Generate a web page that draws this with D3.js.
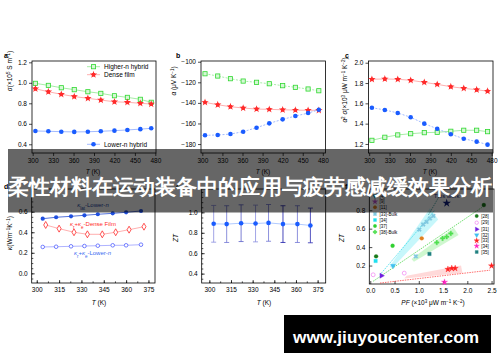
<!DOCTYPE html>
<html>
<head>
<meta charset="utf-8">
<script src="https://cdn.jsdelivr.net/npm/d3@7"></script>
<style>
  body { margin: 0; background: #fff; }
  svg { display: block; }
  text { font-family: "Liberation Sans", Arial, sans-serif; }
</style>
</head>
<body>
<svg width="500" height="362"></svg>
<script>
// ---- data ----
// panels a-c: temperature (K)
const tempTop = [304, 323, 342, 361, 381, 400, 420, 439, 458, 474];
const sigmaHigher = [0.995, 0.975, 0.952, 0.933, 0.913, 0.897, 0.874, 0.858, 0.839, 0.81];
const sigmaDense = [0.942, 0.913, 0.888, 0.866, 0.849, 0.832, 0.815, 0.81, 0.80, 0.793];
const sigmaLower = [0.53, 0.527, 0.523, 0.521, 0.522, 0.527, 0.533, 0.54, 0.548, 0.556];
const seebeckHigher = [-111.7, -113.9, -116.5, -118.8, -120, -121.4, -123.3, -124.9, -126.5, -128.2];
const seebeckDense = [-139.5, -141.8, -143.7, -145, -146, -146.3, -146.7, -147, -147.2, -147.2];
const seebeckLower = [-171.5, -171.2, -170.3, -168, -164.1, -159.9, -156, -152.8, -149.9, -146.7];
const pfHigher = [1.236, 1.266, 1.289, 1.301, 1.311, 1.315, 1.325, 1.335, 1.335, 1.321];
const pfDense = [1.837, 1.840, 1.837, 1.827, 1.807, 1.787, 1.764, 1.748, 1.734, 1.72];
const pfLower = [1.557, 1.535, 1.505, 1.463, 1.40, 1.35, 1.296, 1.252, 1.223, 1.193];
const seriesNames = ['Higher-n hybrid', 'Dense film', 'Lower-n hybrid'];

// panel d: thermal conductivity
const tempKappa = [304, 313, 323, 332, 341, 351, 360, 370];
const tempKappaDense = [306, 315, 325, 334, 344, 353, 362, 372];
const kappaLatLower = [0.532, 0.546, 0.555, 0.565, 0.575, 0.584, 0.594, 0.607];
const kappaDense = [0.471, 0.435, 0.40, 0.38, 0.38, 0.40, 0.425, 0.454];
const kappaLower = [0.257, 0.259, 0.263, 0.266, 0.269, 0.273, 0.273, 0.279];

// panel e: ZT with error bars
const tempZT = [303, 312, 322, 332, 341, 351, 361, 370];
const zt = [0.888, 0.885, 0.894, 0.891, 0.897, 0.885, 0.885, 0.872];
const ztErr = [0.18, 0.18, 0.18, 0.18, 0.18, 0.18, 0.18, 0.17];

// panel f: literature comparison (PF in 10^3 uW m-1 K-2, ZT)
const refLabels = ['[4]', '[9]', '[11]', '[33]-Bulk', '[34]', '[37]', '[38]-Bulk',
  '[28]', '[29]', '[31]', '[32]', '[33]', '[34]', '[35]'];
const litPF = [2.34, 0.12, 0.46, 0.11, 0.06, 0.70, 0.23, 0.47, 1.06, 1.22, 1.53, 2.5, 0.94,
  1.37, 1.49, 1.575, 1.66, 1.01, 1.09, 1.16, 1.23, 1.30, 1.6, 1.68, 1.75];
const litZT = [0.856, 0.30, 0.415, 0.25, 0.10, 0.118, 0.09, 0.197, 0.495, 0.326, 0.02, 0.197, 0.30,
  0.45, 0.495, 0.512, 0.548, 0.59, 0.645, 0.673, 0.71, 0.738, 0.16, 0.17, 0.17];
const litRef = [7, 7, 5, 4, 8, 8, 9, 10, 2, 13, 12, 11, 3,
  6, 6, 6, 6, 3, 3, 3, 3, 3, 11, 11, 11];
const thisWork = { pf: 1.575, zt: 0.877 };

// ---- drawing ----
const svg = d3.select('svg');
const fontSize = 6.5;

const colGreen = '#2fd82f', colGreenLine = '#8fe88f';
const colRed = '#ff2a2a', colRedLine = '#ff9a9a';
const colBlue = '#1a5cff', colBlueLine = '#8aa8ff';

function styleAxis(g) {
  g.selectAll('path, line').attr('stroke', '#000').attr('stroke-width', 0.7);
  g.selectAll('text').attr('font-size', fontSize).attr('fill', '#000')
    .attr('font-family', '"Liberation Sans", Arial, sans-serif');
  g.select('.domain').remove();
}

function makePanel(p) {
  const x = d3.scaleLinear().domain(p.xd).range([p.l, p.r]);
  const y = d3.scaleLinear().domain(p.yd).range([p.b, p.t]);
  const g = svg.append('g');
  const inward = p.inward;
  const xa = d3.axisBottom(x).tickValues(p.xt).tickFormat(p.xf || d3.format('d'))
    .tickSize(inward ? -3 : 3).tickPadding(inward ? 4 : 2);
  const ya = d3.axisLeft(y).tickValues(p.yt).tickFormat(p.yf || d3.format('.1f'))
    .tickSize(inward ? -3 : 3).tickPadding(inward ? 4 : 2);
  g.append('g').attr('transform', `translate(0,${p.b})`).call(xa).call(styleAxis);
  g.append('g').attr('transform', `translate(${p.l},0)`).call(ya).call(styleAxis);
  if (p.xm) {
    g.append('g').attr('transform', `translate(0,${p.b})`)
      .call(d3.axisBottom(x).tickValues(p.xm).tickFormat('').tickSize(inward ? -1.6 : 1.6)).call(styleAxis);
  }
  if (p.ym) {
    g.append('g').attr('transform', `translate(${p.l},0)`)
      .call(d3.axisLeft(y).tickValues(p.ym).tickFormat('').tickSize(inward ? -1.6 : 1.6)).call(styleAxis);
  }
  g.append('rect').attr('x', p.l).attr('y', p.t).attr('width', p.r - p.l).attr('height', p.b - p.t)
    .attr('fill', 'none').attr('stroke', '#000').attr('stroke-width', 0.8);
  // panel letter
  g.append('text').attr('x', p.lx).attr('y', p.ly).attr('font-size', 7).attr('font-weight', 'bold').text(p.letter);
  // axis titles
  const xt = g.append('text').attr('x', p.xtx).attr('y', p.xty).attr('text-anchor', 'middle')
    .attr('font-size', fontSize);
  p.xtitle(xt);
  const yt = g.append('text').attr('transform', `translate(${p.ytx},${p.yty}) rotate(-90)`)
    .attr('text-anchor', 'middle').attr('font-size', fontSize);
  p.ytitle(yt);
  return { g, x, y };
}

function sup(t, s) { t.append('tspan').attr('baseline-shift', 'super').attr('font-size', 4.5).text(s); }
function sub(t, s) { t.append('tspan').attr('baseline-shift', 'sub').attr('font-size', 4.5).text(s); }
function tK(t) { t.append('tspan').attr('font-style', 'italic').text('T'); t.append('tspan').text(' (K)'); }

const markGreen = (g, cx, cy) => g.append('rect').attr('x', cx - 2.1).attr('y', cy - 2.1)
  .attr('width', 4.2).attr('height', 4.2).attr('fill', '#d6f7d6').attr('stroke', colGreen).attr('stroke-width', 0.8);
const markRed = (g, cx, cy) => {
  g.append('circle').attr('cx', cx).attr('cy', cy).attr('r', 1.9).attr('fill', colRed);
  g.append('path').attr('d', d3.symbol(d3.symbolStar, 17)())
    .attr('transform', `translate(${cx},${cy})`).attr('fill', colRed);
};
const markBlue = (g, cx, cy) => g.append('circle').attr('cx', cx).attr('cy', cy).attr('r', 2.3).attr('fill', colBlue);

function drawSeries(panel, xs, ys, lineCol, marker, dash) {
  const line = d3.line().x((d, i) => panel.x(xs[i])).y(d => panel.y(d));
  panel.g.append('path').attr('d', line(ys)).attr('fill', 'none').attr('stroke', lineCol)
    .attr('stroke-width', 0.8).attr('stroke-dasharray', dash || null);
  ys.forEach((v, i) => marker(panel.g, panel.x(xs[i]), panel.y(v)));
}

const topTicks = [300, 330, 360, 390, 420, 450, 480];

// panel a
const pa = makePanel({
  l: 32, r: 156, t: 61, b: 153, xd: [299, 481], yd: [0.315, 1.213],
  xt: topTicks, yt: [0.4, 0.6, 0.8, 1.0, 1.2], letter: 'a', lx: 4, ly: 58,
  xtx: 93, xty: 174, xtitle: tK, ytx: 12, yty: 71,
  ytitle: t => { t.append('tspan').attr('font-style', 'italic').text('σ'); t.append('tspan').text('(×10'); sup(t, '5'); t.append('tspan').text(' S m'); sup(t, '−1'); t.append('tspan').text(')'); }
});
drawSeries(pa, tempTop, sigmaHigher, colGreenLine, markGreen);
drawSeries(pa, tempTop, sigmaDense, colRedLine, markRed);
drawSeries(pa, tempTop, sigmaLower, colBlueLine, markBlue);
// legend
[[66.7, colGreenLine, markGreen, 0], [74.7, colRedLine, markRed, 1], [144.3, colBlueLine, markBlue, 2]].forEach(([ly, lc, mk, k]) => {
  pa.g.append('line').attr('x1', 87).attr('x2', 100).attr('y1', ly).attr('y2', ly).attr('stroke', lc).attr('stroke-width', 0.8);
  mk(pa.g, 93.5, ly);
  pa.g.append('text').attr('x', 104).attr('y', ly + 2.3).attr('font-size', fontSize).text(seriesNames[k]);
});

// panel b
const pb = makePanel({
  l: 201, r: 325.5, t: 61, b: 153, xd: [298, 484], yd: [-188.7, -99.3],
  xt: topTicks, yt: [-180, -160, -140, -120, -100], yf: d3.format('d'), letter: 'b', lx: 176, ly: 58,
  xtx: 263, xty: 174, xtitle: tK, ytx: 176, yty: 81,
  ytitle: t => { t.append('tspan').attr('font-style', 'italic').text('α'); t.append('tspan').text(' (μV K'); sup(t, '−1'); t.append('tspan').text(')'); }
});
drawSeries(pb, tempTop, seebeckHigher, colGreenLine, markGreen, '2,1.5');
drawSeries(pb, tempTop, seebeckDense, colRedLine, markRed);
drawSeries(pb, tempTop, seebeckLower, colBlueLine, markBlue, '2,1.5');

// panel c
const pc = makePanel({
  l: 368.5, r: 493, t: 61, b: 153, xd: [299, 482], yd: [1.111, 2.017],
  xt: topTicks, yt: [1.2, 1.4, 1.6, 1.8, 2.0], letter: 'c', lx: 345, ly: 58,
  xtx: 430, xty: 174, xtitle: tK, ytx: 347, yty: 90,
  ytitle: t => { t.append('tspan').attr('font-style', 'italic').text('α'); sup(t, '2'); t.append('tspan').attr('font-style', 'italic').text(' σ'); t.append('tspan').text('(×10'); sup(t, '3'); t.append('tspan').text(' μW m'); sup(t, '−1'); t.append('tspan').text(' K'); sup(t, '−2'); t.append('tspan').text(')'); }
});
drawSeries(pc, tempTop, pfHigher, colGreenLine, markGreen);
drawSeries(pc, tempTop, pfDense, colRedLine, markRed);
drawSeries(pc, tempTop, pfLower, colBlueLine, markBlue, '2,1.5');

// panel d
const botTicks = [300, 315, 330, 345, 360, 375];
const botMinor = d3.range(300, 380, 7.5);
const pd = makePanel({
  l: 31.7, r: 155, t: 189, b: 283, xd: [296.6, 379.4], yd: [-0.094, 0.821], inward: true,
  xt: botTicks, xm: botMinor, yt: [0.0, 0.2, 0.4, 0.6], ym: d3.range(-0.05, 0.81, 0.05),
  letter: 'd', lx: 4, ly: 189,
  xtx: 99, xty: 305, xtitle: tK, ytx: 12, yty: 233,
  ytitle: t => { t.append('tspan').attr('font-style', 'italic').text('κ'); t.append('tspan').text('(Wm'); sup(t, '−1'); t.append('tspan').text('K'); sup(t, '−1'); t.append('tspan').text(')'); }
});
{
  const line = (xs) => d3.line().x((d, i) => pd.x(xs[i])).y(d => pd.y(d));
  pd.g.append('path').attr('d', line(tempKappa)(kappaLatLower)).attr('fill', 'none').attr('stroke', '#2a4fd0').attr('stroke-width', 0.8);
  kappaLatLower.forEach((v, i) => pd.g.append('circle').attr('cx', pd.x(tempKappa[i])).attr('cy', pd.y(v)).attr('r', 2.1).attr('fill', '#1f4fe0'));
  pd.g.append('path').attr('d', line(tempKappaDense)(kappaDense)).attr('fill', 'none').attr('stroke', colRedLine).attr('stroke-width', 0.8);
  kappaDense.forEach((v, i) => pd.g.append('path').attr('d', d3.symbol(d3.symbolDiamond, 14)())
    .attr('transform', `translate(${pd.x(tempKappaDense[i])},${pd.y(v)})`).attr('fill', '#fff').attr('stroke', colRed).attr('stroke-width', 0.8));
  pd.g.append('path').attr('d', line(tempKappa)(kappaLower)).attr('fill', 'none').attr('stroke', '#9aa0ff').attr('stroke-width', 0.8);
  kappaLower.forEach((v, i) => pd.g.append('circle').attr('cx', pd.x(tempKappa[i])).attr('cy', pd.y(v)).attr('r', 1.8)
    .attr('fill', '#fff').attr('stroke', '#5060ff').attr('stroke-width', 0.8));
  const t1 = pd.g.append('text').attr('x', 93).attr('y', 207).attr('text-anchor', 'middle').attr('font-size', 6).attr('fill', '#2040a0');
  t1.append('tspan').attr('font-style', 'italic').text('κ'); sub(t1, 'lat'); t1.append('tspan').text('-Lower-'); t1.append('tspan').attr('font-style', 'italic').text('n');
  const t2 = pd.g.append('text').attr('x', 93).attr('y', 226).attr('text-anchor', 'middle').attr('font-size', 6).attr('fill', colRed);
  t2.append('tspan').attr('font-style', 'italic').text('κ'); sub(t2, 'r'); t2.append('tspan').text('+'); t2.append('tspan').attr('font-style', 'italic').text('κ'); sub(t2, 'e'); t2.append('tspan').text('-Dense Film');
  const t3 = pd.g.append('text').attr('x', 92.5).attr('y', 255).attr('text-anchor', 'middle').attr('font-size', 6).attr('fill', '#3a6cf0');
  t3.append('tspan').attr('font-style', 'italic').text('κ'); sub(t3, 'r'); t3.append('tspan').text('+'); t3.append('tspan').attr('font-style', 'italic').text('κ'); sub(t3, 'e'); t3.append('tspan').text('-Lower-'); t3.append('tspan').attr('font-style', 'italic').text('n');
}

// panel e
const pe = makePanel({
  l: 201.7, r: 325.7, t: 189, b: 283, xd: [294.7, 380.6], yd: [0.308, 1.229], inward: true,
  xt: botTicks, xm: botMinor, yt: [0.4, 0.6, 0.8, 1.0], ym: d3.range(0.35, 1.23, 0.05),
  letter: 'e', lx: 176, ly: 189,
  xtx: 264, xty: 305, xtitle: tK, ytx: 178, yty: 238,
  ytitle: t => { t.append('tspan').attr('font-style', 'italic').text('ZT'); }
});
{
  const barCols = ['#8a8ee0', '#7075d4', '#5a5fc8', '#8a8ee0', '#7075d4', '#1a1aa8', '#7075d4', '#2a2ab0'];
  zt.forEach((v, i) => {
    const cx = pe.x(tempZT[i]);
    const y1 = pe.y(v + ztErr[i]), y2 = pe.y(v - ztErr[i]);
    pe.g.append('line').attr('x1', cx).attr('x2', cx).attr('y1', y1).attr('y2', y2).attr('stroke', barCols[i]).attr('stroke-width', 0.8);
    [y1, y2].forEach(yy => pe.g.append('line').attr('x1', cx - 2.5).attr('x2', cx + 2.5).attr('y1', yy).attr('y2', yy).attr('stroke', barCols[i]).attr('stroke-width', 0.8));
  });
  const line = d3.line().x((d, i) => pe.x(tempZT[i])).y(d => pe.y(d));
  pe.g.append('path').attr('d', line(zt)).attr('fill', 'none').attr('stroke', '#a8c4ff').attr('stroke-width', 0.9);
  zt.forEach((v, i) => pe.g.append('circle').attr('cx', pe.x(tempZT[i])).attr('cy', pe.y(v)).attr('r', 2.3).attr('fill', colBlue));
}

// panel f
const pf = makePanel({
  l: 369.3, r: 494, t: 189, b: 284, xd: [-0.02, 2.55], yd: [0, 1.03], inward: true,
  xt: [0, 0.5, 1.0, 1.5, 2.0, 2.5], xf: d3.format('.1f'), yt: [0.2, 0.4, 0.6, 0.8],
  letter: 'f', lx: 345, ly: 189,
  xtx: 433, xty: 305, ytx: 344, yty: 238,
  xtitle: t => { t.append('tspan').attr('font-style', 'italic').text('PF'); t.append('tspan').text(' (×10'); sup(t, '3'); t.append('tspan').text(' μW m'); sup(t, '−1'); t.append('tspan').text(' K'); sup(t, '−2'); t.append('tspan').text(')'); },
  ytitle: t => { t.append('tspan').attr('font-style', 'italic').text('ZT'); }
});
{
  const refStyle = [
    { c: '#1b8a8a', s: d3.symbolTriangle, r: 180, fill: true },
    { c: '#c050d0', s: d3.symbolStar, r: 0, fill: true },
    { c: '#e08020', s: d3.symbolCircle, r: 0, fill: true },
    { c: '#80c8e0', s: d3.symbolCross, r: 45, fill: true },
    { c: '#20e0f0', s: d3.symbolSquare, r: 0, fill: true },
    { c: '#30d030', s: d3.symbolCircle, r: 0, fill: true },
    { c: '#50e050', s: d3.symbolCross, r: 0, fill: true },
    { c: '#1a7a1a', s: d3.symbolCircle, r: 0, fill: true },
    { c: '#f080f0', s: d3.symbolCircle, r: 0, fill: false },
    { c: '#7020e0', s: d3.symbolTriangle, r: 90, fill: true },
    { c: '#40c0f0', s: d3.symbolTriangle, r: 180, fill: true },
    { c: '#ff2020', s: d3.symbolStar, r: 0, fill: true },
    { c: '#ff20c0', s: d3.symbolStar, r: 0, fill: true },
    { c: '#208080', s: d3.symbolSquare, r: 0, fill: true }
  ];
  const X = pf.x, Y = pf.y;
  const poly = pts => 'M' + pts.map(p => `${X(p[0])},${Y(p[1])}`).join('L') + 'Z';
  // shaded trend bands
  pf.g.append('path').attr('d', poly([[0.40, 0.19], [1.23, 0.82], [1.40, 0.70], [0.45, 0.17]])).attr('fill', '#20e0f0').attr('fill-opacity', 0.25);
  pf.g.append('path').attr('d', poly([[0.85, 0.27], [1.72, 0.61], [1.82, 0.53], [0.9, 0.24]])).attr('fill', '#40e040').attr('fill-opacity', 0.25);
  pf.g.append('path').attr('d', poly([[0.7, 0.06], [0.75, 0.09], [1.87, 0.20], [1.9, 0.12]])).attr('fill', '#ff4040').attr('fill-opacity', 0.2);
  const dl = (a, b, c) => pf.g.append('line').attr('x1', X(a[0])).attr('y1', Y(a[1])).attr('x2', X(b[0])).attr('y2', Y(b[1]))
    .attr('stroke', c).attr('stroke-width', 0.7).attr('stroke-dasharray', '1.5,1');
  dl([0.2, 0.1], [1.33, 0.8], '#20d8e8');
  dl([0.06, 0.03], [2.3, 0.83], '#30d030');
  dl([0.2, 0.01], [2.47, 0.15], '#ff3030');
  dl([1.2, 0.75], [1.42, 0.95], '#1b8a8a');
  const mark = (st, cx, cy, size) => pf.g.append('path')
    .attr('d', d3.symbol(st.s, size || 12)())
    .attr('transform', `translate(${cx},${cy}) rotate(${st.r})`)
    .attr('fill', st.fill ? st.c : '#fff').attr('stroke', st.c).attr('stroke-width', st.fill ? 0.3 : 0.7);
  litPF.forEach((v, i) => mark(refStyle[litRef[i]], X(v), Y(litZT[i])));
  pf.g.append('path').attr('d', d3.symbol(d3.symbolStar, 22)())
    .attr('transform', `translate(${X(thisWork.pf)},${Y(thisWork.zt)})`).attr('fill', '#102080');
  pf.g.append('text').attr('x', X(thisWork.pf)).attr('y', Y(thisWork.zt) - 5).attr('text-anchor', 'middle')
    .attr('font-size', 6).attr('fill', '#203080').text('This work');
  // legends
  const leftY = [196, 201.7, 207.3, 214, 220, 226, 232];
  const rightY = [216, 222.7, 229.3, 235, 240.7, 246, 252];
  refLabels.forEach((lab, i) => {
    const left = i < 7;
    const mx = left ? 375 : 476.7, my = left ? leftY[i] : rightY[i - 7];
    mark(refStyle[i], mx, my, 9);
    pf.g.append('text').attr('x', mx + 4.5).attr('y', my + 1.6).attr('font-size', 4.5).text(lab);
  });
}

// ---- overlays ----
svg.append('rect').attr('x', 8).attr('y', 149).attr('width', 485).attr('height', 63.5).attr('fill', '#000').attr('fill-opacity', 0.6);
svg.append('text').attr('x', 250).attr('y', 194).attr('text-anchor', 'middle')
  .attr('font-family', '"Noto Sans CJK SC", sans-serif').attr('font-weight', 'bold').attr('font-size', 21)
  .attr('fill', '#fff').attr('textLength', 484).attr('lengthAdjust', 'spacingAndGlyphs')
  .text('柔性材料在运动装备中的应用与疲劳感减缓效果分析');
svg.append('rect').attr('x', 284).attr('y', 315).attr('width', 207).attr('height', 38).attr('fill', '#000');
svg.append('text').attr('x', 386).attr('y', 343).attr('text-anchor', 'middle')
  .attr('font-family', '"DejaVu Sans", sans-serif').attr('font-weight', 'bold').attr('font-size', 17)
  .attr('fill', '#fff').attr('textLength', 186).attr('lengthAdjust', 'spacingAndGlyphs')
  .text('www.jiuyoucenter.com');
</script>
</body>
</html>
